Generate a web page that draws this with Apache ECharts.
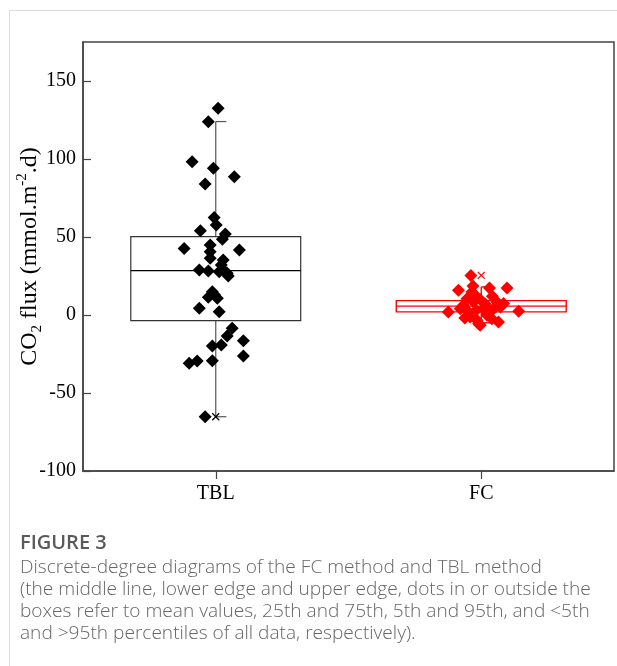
<!DOCTYPE html>
<html>
<head>
<meta charset="utf-8">
<script src="https://cdn.jsdelivr.net/npm/echarts@6/dist/echarts.min.js"></script>
<style>
html,body{margin:0;padding:0;background:#fff;}
#chart{width:617px;height:666px;}
</style>
</head>
<body>
<div id="chart"></div>
<script>
// ---------------- data ----------------
const categories = ['TBL', 'FC'];
const yTicks = [-100, -50, 0, 50, 100, 150];

// [jitter offset from category centre (category units), value]
const tblPoints = [
  [0.009, 132.5], [-0.028, 123.9], [-0.089, 98.3], [-0.009, 94.0], [0.070, 88.7],
  [-0.040, 84.0], [-0.006, 62.5], [0.002, 57.7], [-0.058, 54.0], [0.036, 51.9],
  [0.025, 48.5], [-0.119, 42.7], [-0.021, 44.9], [-0.021, 40.6], [-0.021, 36.3],
  [0.089, 41.7], [0.028, 35.3], [0.021, 32.0], [-0.062, 28.8], [-0.028, 28.2],
  [0.013, 27.8], [0.043, 26.7], [0.025, 29.5], [0.047, 25.0], [-0.013, 14.9],
  [-0.028, 11.3], [0.006, 10.7], [-0.005, 13.0], [-0.062, 4.3], [0.013, 2.1],
  [0.062, -8.5], [0.043, -13.5], [0.104, -16.5], [-0.013, -19.9], [0.021, -19.2],
  [0.104, -26.3], [-0.100, -31.0], [-0.070, -29.5], [-0.013, -29.3], [-0.040, -65.2]
];
const fcPoints = [
  [-0.039, 25.4], [-0.086, 15.8], [-0.031, 18.6], [0.031, 17.3], [0.097, 17.3],
  [-0.124, 1.9], [0.141, 2.4], [-0.067, 6.2], [-0.023, 12.6], [-0.054, 10.4],
  [0.059, 8.3], [0.084, 7.3], [0.072, 5.1], [-0.010, -5.6], [0.065, -4.5],
  [-0.042, -1.3], [0.022, -0.2], [-0.048, 1.9], [0.009, 4.0], [-0.016, -3.4],
  [0.040, -2.4], [-0.029, 8.3], [-0.079, 4.0], [0.034, 1.9], [-0.004, -6.6],
  [0.053, 5.1], [-0.035, 14.7], [-0.004, 10.0], [0.015, 7.0], [0.042, 12.0],
  [-0.062, -2.0], [-0.019, 3.0]
];

// [5th percentile, 25th, mean, 75th, 95th]
const tblBox = [-65.2, -3.6, 28.5, 50.2, 124.0];
const fcBox = [-5.0, 2.0, 5.7, 9.2, 18.0];
// extreme markers (x)
const tblExtremes = [-65.2];
const fcExtremes = [25.4];

const colors = ['#000000', '#ff0000'];
const boxLineColors = ['#333333', '#ff0000'];

// --------------- build ---------------
const boxes = [tblBox, fcBox];
const pointSets = [tblPoints, fcPoints];
const extremeSets = [tblExtremes, fcExtremes];

const boxData = boxes.map((b, i) => [i + 1].concat(b));
const extremeData = [];
extremeSets.forEach((arr, i) => arr.forEach(v => extremeData.push([i + 1, v, i])));

const BOX_W = 0.64;
const CAP = 0.04;

function renderBox(params, api) {
  const idx = params.dataIndex;
  const x = api.value(0);
  const low = api.value(1), q1 = api.value(2), mean = api.value(3), q3 = api.value(4), high = api.value(5);
  const pL = api.coord([x - BOX_W / 2, q3]);
  const pR = api.coord([x + BOX_W / 2, q1]);
  const c = api.coord([x, mean]);
  const pHigh = api.coord([x, high]);
  const pLow = api.coord([x, low]);
  const pQ1 = api.coord([x, q1]);
  const pQ3 = api.coord([x, q3]);
  const capEnd = api.coord([x + CAP, high])[0];
  const col = boxLineColors[idx];
  const lw = idx === 0 ? 1.2 : 1.4;
  const st = { stroke: col, lineWidth: lw, fill: null };
  const wst = { stroke: idx === 0 ? '#555' : col, lineWidth: lw };
  return {
    type: 'group',
    children: [
      { type: 'line', shape: { x1: pHigh[0], y1: pQ3[1], x2: pHigh[0], y2: pHigh[1] }, style: wst },
      { type: 'line', shape: { x1: pLow[0], y1: pQ1[1], x2: pLow[0], y2: pLow[1] }, style: wst },
      { type: 'line', shape: { x1: pHigh[0], y1: pHigh[1], x2: capEnd, y2: pHigh[1] }, style: wst },
      { type: 'line', shape: { x1: pLow[0], y1: pLow[1], x2: capEnd, y2: pLow[1] }, style: wst },
      { type: 'rect', shape: { x: pL[0], y: pL[1], width: pR[0] - pL[0], height: pR[1] - pL[1] }, style: st },
      { type: 'line', shape: { x1: pL[0], y1: c[1], x2: pR[0], y2: c[1] }, style: { stroke: idx === 0 ? '#000' : col, lineWidth: lw } }
    ]
  };
}

function renderCross(params, api) {
  const p = api.coord([api.value(0), api.value(1)]);
  const col = colors[api.value(2)];
  const s = 3.5;
  return {
    type: 'group',
    children: [
      { type: 'line', shape: { x1: p[0] - s, y1: p[1] - s, x2: p[0] + s, y2: p[1] + s }, style: { stroke: col, lineWidth: 1.2 } },
      { type: 'line', shape: { x1: p[0] - s, y1: p[1] + s, x2: p[0] + s, y2: p[1] - s }, style: { stroke: col, lineWidth: 1.2 } }
    ]
  };
}

const serif = 'Liberation Serif, Times New Roman, serif';
const captionFont = 'Open Sans, Noto Sans, sans-serif';

const scatterSeries = pointSets.map((pts, i) => ({
  type: 'scatter',
  xAxisIndex: 1,
  symbol: 'diamond',
  symbolSize: 13,
  itemStyle: { color: colors[i], opacity: 1 },
  z: 3,
  silent: true,
  data: pts.map(p => [i + 1 + p[0], p[1]])
}));

const option = {
  animation: false,
  backgroundColor: '#fff',
  grid: { left: 83, top: 42, right: 3, bottom: 195, outerBoundsMode: 'none', containLabel: false, show: true, borderColor: '#444', borderWidth: 1.5, backgroundColor: 'transparent' },
  xAxis: [
    {
      type: 'category',
      data: categories,
      boundaryGap: true,
      axisLine: { show: true, onZero: false, lineStyle: { color: '#444', width: 1.5 } },
      axisTick: { show: true, alignWithLabel: true, length: 8, inside: false, lineStyle: { color: '#444', width: 1.2 } },
      axisLabel: { fontFamily: serif, fontSize: 20, color: '#000', margin: 13 },
      splitLine: { show: false }
    },
    {
      type: 'value',
      min: 0.5,
      max: 2.5,
      show: false,
      axisLine: { onZero: false },
      splitLine: { show: false }
    }
  ],
  yAxis: {
    type: 'value',
    min: -100,
    max: 175,
    interval: 50,
    axisLine: { show: true, onZero: false, lineStyle: { color: '#444', width: 1.5 } },
    axisTick: { show: true, inside: true, length: 8, customValues: yTicks, lineStyle: { color: '#444', width: 1.2 } },
    axisLabel: { fontFamily: serif, fontSize: 20, color: '#000', margin: 7, customValues: yTicks },
    splitLine: { show: false },
    name: '{a|CO}{sub|2}{a| flux (mmol.m}{sup|-2}{a|.d)}',
    nameLocation: 'middle',
    nameGap: 38,
    nameMoveOverlap: false,
    nameTextStyle: {
      fontFamily: serif, fontSize: 24, color: '#000',
      rich: {
        a: { fontFamily: serif, fontSize: 24, color: '#000', lineHeight: 30 },
        sub: { fontFamily: serif, fontSize: 15, color: '#000', lineHeight: 16, verticalAlign: 'bottom' },
        sup: { fontFamily: serif, fontSize: 15, color: '#000', lineHeight: 16, verticalAlign: 'top' }
      }
    }
  },
  series: [
    {
      type: 'custom',
      xAxisIndex: 1,
      renderItem: renderBox,
      data: boxData,
      z: 2,
      silent: true,
      encode: { x: 0, y: [1, 2, 3, 4, 5] }
    }
  ].concat(scatterSeries).concat([
    {
      type: 'custom',
      xAxisIndex: 1,
      renderItem: renderCross,
      data: extremeData,
      z: 4,
      silent: true,
      encode: { x: 0, y: 1 }
    }
  ]),
  graphic: [
    { type: 'line', shape: { x1: 9.5, y1: 10, x2: 9.5, y2: 666 }, style: { stroke: '#dcdcdc', lineWidth: 1 }, silent: true },
    { type: 'line', shape: { x1: 9, y1: 10.5, x2: 617, y2: 10.5 }, style: { stroke: '#dcdcdc', lineWidth: 1 }, silent: true },
    { type: 'text', left: 20, top: 533, style: { text: 'FIGURE 3', font: '600 20px ' + captionFont, fill: '#5a5a5a' }, silent: true },
    { type: 'text', left: 20, top: 558, style: { text: 'Discrete-degree diagrams of the FC method and TBL method', font: '300 19.1px ' + captionFont, fill: '#666' }, silent: true },
    { type: 'text', left: 20, top: 580, style: { text: '(the middle line, lower edge and upper edge, dots in or outside the', font: '300 19.1px ' + captionFont, fill: '#666' }, silent: true },
    { type: 'text', left: 20, top: 602, style: { text: 'boxes refer to mean values, 25th and 75th, 5th and 95th, and <5th', font: '300 19.1px ' + captionFont, fill: '#666' }, silent: true },
    { type: 'text', left: 20, top: 624, style: { text: 'and >95th percentiles of all data, respectively).', font: '300 19.1px ' + captionFont, fill: '#666' }, silent: true }
  ]
};

const chart = echarts.init(document.getElementById('chart'), null, { renderer: 'canvas' });
chart.setOption(option);
</script>
</body>
</html>
